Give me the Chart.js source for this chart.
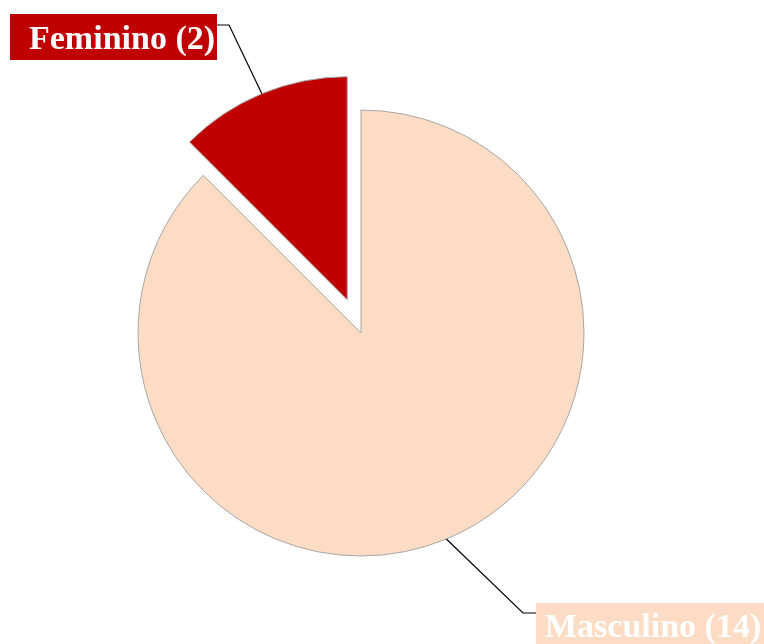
<!DOCTYPE html>
<html>
<head>
<meta charset="utf-8">
<script src="https://cdn.jsdelivr.net/npm/chart.js@4/dist/chart.umd.min.js"></script>
<style>
  html, body { margin: 0; padding: 0; background: #ffffff; }
  #wrap { width: 764px; height: 644px; position: relative; }
</style>
</head>
<body>
<div id="wrap"><canvas id="c" width="764" height="644"></canvas></div>
<script>
const categories = ["Masculino", "Feminino"];
const values = [14, 2];
const sliceColors = ["#FCDCC4", "#C00000"];
const sliceExplode = [0, 36];

// label layout (box rect, text origin, leader elbow) per slice
const labelLayout = [
  { box: [536, 603, 240, 50], text: [545, 637], elbow: [523, 613], join: [536, 613] },
  { box: [10, 14, 207, 46], text: [29, 49], elbow: [229, 25], join: [217, 25] }
];

function explodeShift(arc, i) {
  const p = arc.getProps(['startAngle', 'endAngle'], true);
  const mid = (p.startAngle + p.endAngle) / 2;
  return { dx: Math.cos(mid) * sliceExplode[i], dy: Math.sin(mid) * sliceExplode[i], mid };
}

// draw slices through the library's arc elements, exploded by a plain translation
const explodePlugin = {
  id: 'explode',
  beforeDatasetDraw(chart, args) {
    const ctx = chart.ctx;
    args.meta.data.forEach((arc, i) => {
      const s = explodeShift(arc, i);
      ctx.save();
      ctx.translate(s.dx, s.dy);
      arc.draw(ctx, chart.chartArea);
      ctx.restore();
    });
    return false;
  }
};

const labelPlugin = {
  id: 'labels',
  afterDatasetsDraw(chart) {
    const ctx = chart.ctx;
    const meta = chart.getDatasetMeta(0);
    meta.data.forEach((arc, i) => {
      const p = arc.getProps(['x', 'y', 'outerRadius'], true);
      const s = explodeShift(arc, i);
      const ax = p.x + s.dx + Math.cos(s.mid) * p.outerRadius;
      const ay = p.y + s.dy + Math.sin(s.mid) * p.outerRadius;
      const L = labelLayout[i];
      ctx.save();
      ctx.strokeStyle = '#000000';
      ctx.lineWidth = 1.2;
      ctx.beginPath();
      ctx.moveTo(ax, ay);
      ctx.lineTo(L.elbow[0], L.elbow[1]);
      ctx.lineTo(L.join[0], L.join[1]);
      ctx.stroke();
      ctx.fillStyle = sliceColors[i];
      ctx.fillRect(L.box[0], L.box[1], L.box[2], L.box[3]);
      ctx.fillStyle = '#ffffff';
      ctx.font = 'bold 34px "Liberation Serif", serif';
      ctx.textBaseline = 'alphabetic';
      ctx.textAlign = 'left';
      ctx.fillText(categories[i] + ' (' + values[i] + ')', L.text[0], L.text[1]);
      ctx.restore();
    });
  }
};

new Chart(document.getElementById('c'), {
  type: 'pie',
  data: {
    labels: categories,
    datasets: [{
      data: values,
      backgroundColor: sliceColors,
      borderColor: '#a6a6a6',
      borderWidth: 1,
      offset: 0,
      hoverOffset: 0
    }]
  },
  options: {
    responsive: false,
    animation: false,
    radius: 223,
    layout: { padding: { left: 0, right: 42, top: 22, bottom: 0 } },
    plugins: { legend: { display: false }, tooltip: { enabled: false } }
  },
  plugins: [explodePlugin, labelPlugin]
});
</script>
</body>
</html>
